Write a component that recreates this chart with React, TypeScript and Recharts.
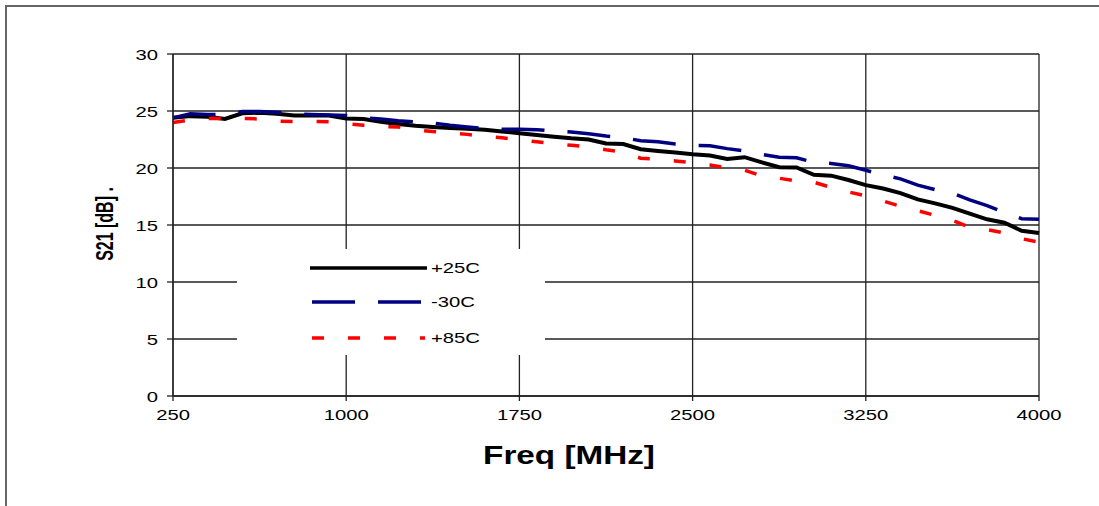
import React from 'react';
import { LineChart, Line, XAxis, YAxis, CartesianGrid, Legend } from 'recharts';

const freq = [
  250, 325, 400, 475, 550, 625, 700, 775, 850, 925, 1000, 1075, 1150, 1225, 1300, 1375, 1450,
  1525, 1600, 1675, 1750, 1825, 1900, 1975, 2050, 2125, 2200, 2275, 2350, 2425, 2500, 2575,
  2650, 2725, 2800, 2875, 2950, 3025, 3100, 3175, 3250, 3325, 3400, 3475, 3550, 3625, 3700,
  3775, 3850, 3925, 4000,
];

const s21Plus25 = [
  24.4, 24.55, 24.5, 24.3, 24.8, 24.85, 24.75, 24.6, 24.6, 24.6, 24.35, 24.3, 24.05, 23.85, 23.7,
  23.6, 23.5, 23.45, 23.35, 23.2, 23.05, 22.9, 22.75, 22.6, 22.5, 22.15, 22.1, 21.65, 21.5, 21.35,
  21.2, 21.1, 20.8, 20.95, 20.5, 20.07, 20.05, 19.4, 19.33, 18.95, 18.5, 18.2, 17.8, 17.25, 16.9,
  16.5, 16.0, 15.5, 15.2, 14.5, 14.3,
];

const s21Minus30 = [
  24.4, 24.75, 24.7, 24.7, 24.95, 24.95, 24.9, 24.75, 24.7, 24.65, 24.6, 24.4, 24.3, 24.15, 24.05,
  23.95, 23.75, 23.6, 23.45, 23.4, 23.4, 23.35, 23.25, 23.15, 23.0, 22.8, 22.65, 22.4, 22.3, 22.1,
  22.0, 21.95, 21.7, 21.5, 21.2, 20.95, 20.9, 20.5, 20.4, 20.2, 19.8, 19.4, 19.05, 18.5, 18.1,
  17.8, 17.2, 16.7, 16.1, 15.55, 15.5,
];

const s21Plus85 = [
  24.0, 24.2, 24.35, 24.35, 24.35, 24.3, 24.1, 24.08, 24.08, 24.05, 23.9, 23.75, 23.65, 23.6, 23.35,
  23.2, 23.06, 22.95, 22.77, 22.65, 22.45, 22.3, 22.12, 22.0, 21.85, 21.6, 21.4, 20.86, 20.75, 20.62,
  20.45, 20.27, 20.0, 19.8, 19.3, 19.1, 18.85, 18.75, 18.3, 17.9, 17.55, 17.1, 16.65, 16.25, 15.85,
  15.4, 14.8, 14.6, 14.3, 13.8, 13.5,
];

const xTicks = [250, 1000, 1750, 2500, 3250, 4000];
const yTicks = [0, 5, 10, 15, 20, 25, 30];

const data = freq.map((f, i) => ({
  f,
  p25: s21Plus25[i],
  m30: s21Minus30[i],
  p85: s21Plus85[i],
}));

const FONT = '"Liberation Sans", Arial, sans-serif';
// the original text is drawn wide, so stretch it sideways
const WIDE = 1.35;

const XTick = ({ x, y, payload }: any) => (
  <g transform={`translate(${x},${y})`}>
    <text x={0} y={0} dy={15} textAnchor="middle" transform={`scale(${WIDE},1)`}
      fontFamily={FONT} fontSize={15} fill="#000">
      {payload.value}
    </text>
  </g>
);

const YTick = ({ x, y, payload }: any) => (
  <g transform={`translate(${x},${y})`}>
    <text x={0} y={0} dy={5.5} textAnchor="end" transform={`scale(${WIDE},1)`}
      fontFamily={FONT} fontSize={15} fill="#000">
      {payload.value}
    </text>
  </g>
);

const XTitle = () => (
  <g transform="translate(569,464)">
    <text x={0} y={0} textAnchor="middle" transform="scale(1.28,1)"
      fontFamily={FONT} fontSize={26} fontWeight="bold" fill="#000">
      Freq [MHz]
    </text>
  </g>
);

const YTitle = () => (
  <g transform="translate(113,224) scale(1.5,1) rotate(-90)">
    <text x={0} y={0} textAnchor="middle" fontFamily={FONT} fontSize={16} fontWeight="bold" fill="#000">
      S21 [dB] .
    </text>
  </g>
);

const legendRows = [
  { name: '+25C', color: '#000000', dash: undefined, y: 19 },
  { name: '-30C', color: '#000080', dash: '43 23', y: 53 },
  { name: '+85C', color: '#ff0000', dash: '12 24', y: 89 },
];

const LegendBox = () => (
  <svg width={308} height={106} style={{ display: 'block', background: '#fff' }}>
    {legendRows.map((r) => (
      <g key={r.name}>
        <line x1={r.dash ? 75 : 73} x2={r.dash ? 188 : 190} y1={r.y} y2={r.y}
          stroke={r.color} strokeWidth={3.5} strokeDasharray={r.dash} />
        <g transform={`translate(194,${r.y + 5})`}>
          <text x={0} y={0} transform={`scale(${WIDE},1)`} fontFamily={FONT} fontSize={15} fill="#000">
            {r.name}
          </text>
        </g>
      </g>
    ))}
  </svg>
);

export default function App() {
  return (
    <div style={{ position: 'fixed', left: 0, top: 0, width: 1099, height: 506, background: '#fff', overflow: 'hidden' }}>
      <div style={{
        position: 'absolute', left: 5, top: 5, width: 1094, height: 501, boxSizing: 'border-box',
        borderTop: '2px solid #666', borderLeft: '2px solid #666',
      }} />
      <div style={{ position: 'absolute', left: 0, top: 0 }}>
        <LineChart width={1099} height={506} data={data} margin={{ top: 54, right: 60, bottom: 0, left: 0 }}>
          <CartesianGrid stroke="#222" strokeWidth={1.3} />
          <XAxis dataKey="f" type="number" domain={[250, 4000]} ticks={xTicks} interval={0}
            height={110} tickSize={5} tickMargin={4} tick={<XTick />}
            stroke="#222" strokeWidth={1.3} label={{ content: XTitle }} />
          <YAxis type="number" domain={[0, 30]} ticks={yTicks} interval={0}
            width={173} tickSize={6} tickMargin={9} tick={<YTick />}
            stroke="#222" strokeWidth={1.3} label={{ content: YTitle }} />
          <Legend layout="vertical" align="center" verticalAlign="middle" content={LegendBox}
            wrapperStyle={{ left: 237, top: 249, right: 'auto', bottom: 'auto', width: 308, height: 106 }} />
          <Line dataKey="p25" name="+25C" stroke="#000000" strokeWidth={4} dot={false} isAnimationActive={false} />
          <Line dataKey="m30" name="-30C" stroke="#000080" strokeWidth={3.5} strokeDasharray="43 23" dot={false} isAnimationActive={false} />
          <Line dataKey="p85" name="+85C" stroke="#ff0000" strokeWidth={3.5} strokeDasharray="12 24" dot={false} isAnimationActive={false} />
        </LineChart>
      </div>
    </div>
  );
}
